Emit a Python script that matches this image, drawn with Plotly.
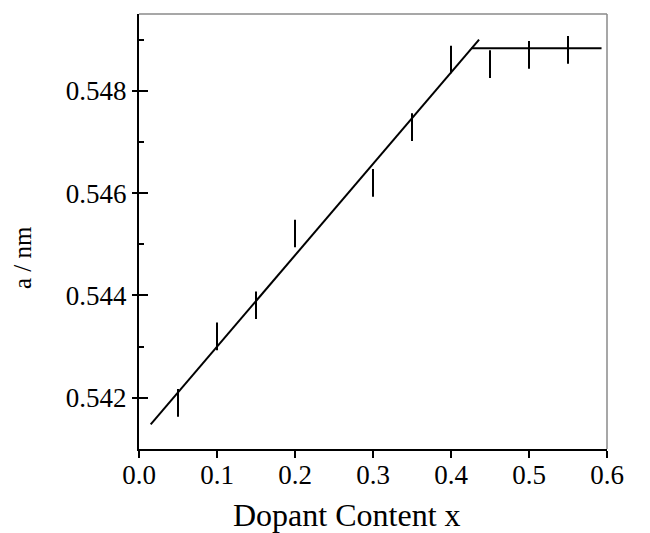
import plotly.graph_objects as go

# Data
dopant_x = [0.05, 0.10, 0.15, 0.20, 0.30, 0.35, 0.40, 0.45, 0.50, 0.55]
lattice_a = [0.54190, 0.54320, 0.54381, 0.54521, 0.54620, 0.54729, 0.54861, 0.54852, 0.54870, 0.54880]
lattice_err = [0.00027] * 10

fit_x = [0.015, 0.436]
fit_y = [0.54148, 0.54900]
plateau_x = [0.426, 0.593]
plateau_y = [0.54883, 0.54883]

x_ticks = [0.0, 0.1, 0.2, 0.3, 0.4, 0.5, 0.6]
x_ticklabels = ["0.0", "0.1", "0.2", "0.3", "0.4", "0.5", "0.6"]
y_ticks = [0.542, 0.544, 0.546, 0.548]
y_ticklabels = ["0.542", "0.544", "0.546", "0.548"]

FONT = "Liberation Serif, Times New Roman, serif"

fig = go.Figure()

fig.add_trace(go.Scatter(
    x=dopant_x, y=lattice_a, mode="markers",
    marker=dict(size=0.1, color="black", opacity=0),
    error_y=dict(type="data", array=lattice_err, visible=True,
                 color="black", thickness=2, width=0),
    showlegend=False, hoverinfo="skip"))

fig.add_trace(go.Scatter(x=fit_x, y=fit_y, mode="lines",
                         line=dict(color="black", width=2), showlegend=False))
fig.add_trace(go.Scatter(x=plateau_x, y=plateau_y, mode="lines",
                         line=dict(color="black", width=2), showlegend=False))

fig.update_layout(
    width=650, height=533,
    margin=dict(l=139, r=43, t=14, b=84),
    paper_bgcolor="white", plot_bgcolor="white",
    font=dict(family=FONT, color="black", size=27),
    xaxis=dict(
        range=[0, 0.6], tickvals=x_ticks, ticktext=x_ticklabels,
        showgrid=False, zeroline=False, showline=True, linecolor="black",
        linewidth=2, ticks="outside", ticklen=7, tickwidth=2, tickcolor="black",
        tickfont=dict(family=FONT, size=27), ticklabelstandoff=-6,
    ),
    yaxis=dict(
        range=[0.541, 0.5495], tickvals=y_ticks, ticktext=y_ticklabels,
        showgrid=False, zeroline=False, showline=True, linecolor="black",
        linewidth=2, ticks="outside", ticklen=5, tickwidth=2, tickcolor="black",
        tickfont=dict(family=FONT, size=27),
    ),
    yaxis2=dict(
        range=[0.541, 0.5495], overlaying="y", side="left",
        tickvals=y_ticks, showticklabels=False, showgrid=False, zeroline=False,
        showline=False, ticks="inside", ticklen=9, tickwidth=2, tickcolor="black",
        minor=dict(tickvals=[0.543, 0.545, 0.547, 0.549], ticks="inside",
                   ticklen=5, tickwidth=2, tickcolor="black"),
    ),
    shapes=[
        dict(type="line", xref="paper", yref="paper", x0=0, x1=1, y0=1, y1=1,
             line=dict(color="#8a8a8a", width=1.5)),
        dict(type="line", xref="paper", yref="paper", x0=1, x1=1, y0=0, y1=1,
             line=dict(color="#8a8a8a", width=1.5)),
    ],
    annotations=[
        dict(text="Dopant Content x", xref="paper", yref="paper",
             x=(347 - 139) / 468, y=0, xanchor="center", yanchor="middle",
             yshift=-(515 - 449), showarrow=False,
             font=dict(family=FONT, size=32, color="black")),
        dict(text="a / nm", xref="paper", yref="paper",
             x=0, y=(449 - 258) / 435, xanchor="center", yanchor="middle",
             xshift=22 - 139, textangle=-90, showarrow=False,
             font=dict(family=FONT, size=25, color="black")),
    ],
)

# invisible trace to activate yaxis2
fig.add_trace(go.Scatter(x=[0], y=[0.545], yaxis="y2", mode="markers",
                         marker=dict(opacity=0), showlegend=False, hoverinfo="skip"))

fig.write_html("out.html")
